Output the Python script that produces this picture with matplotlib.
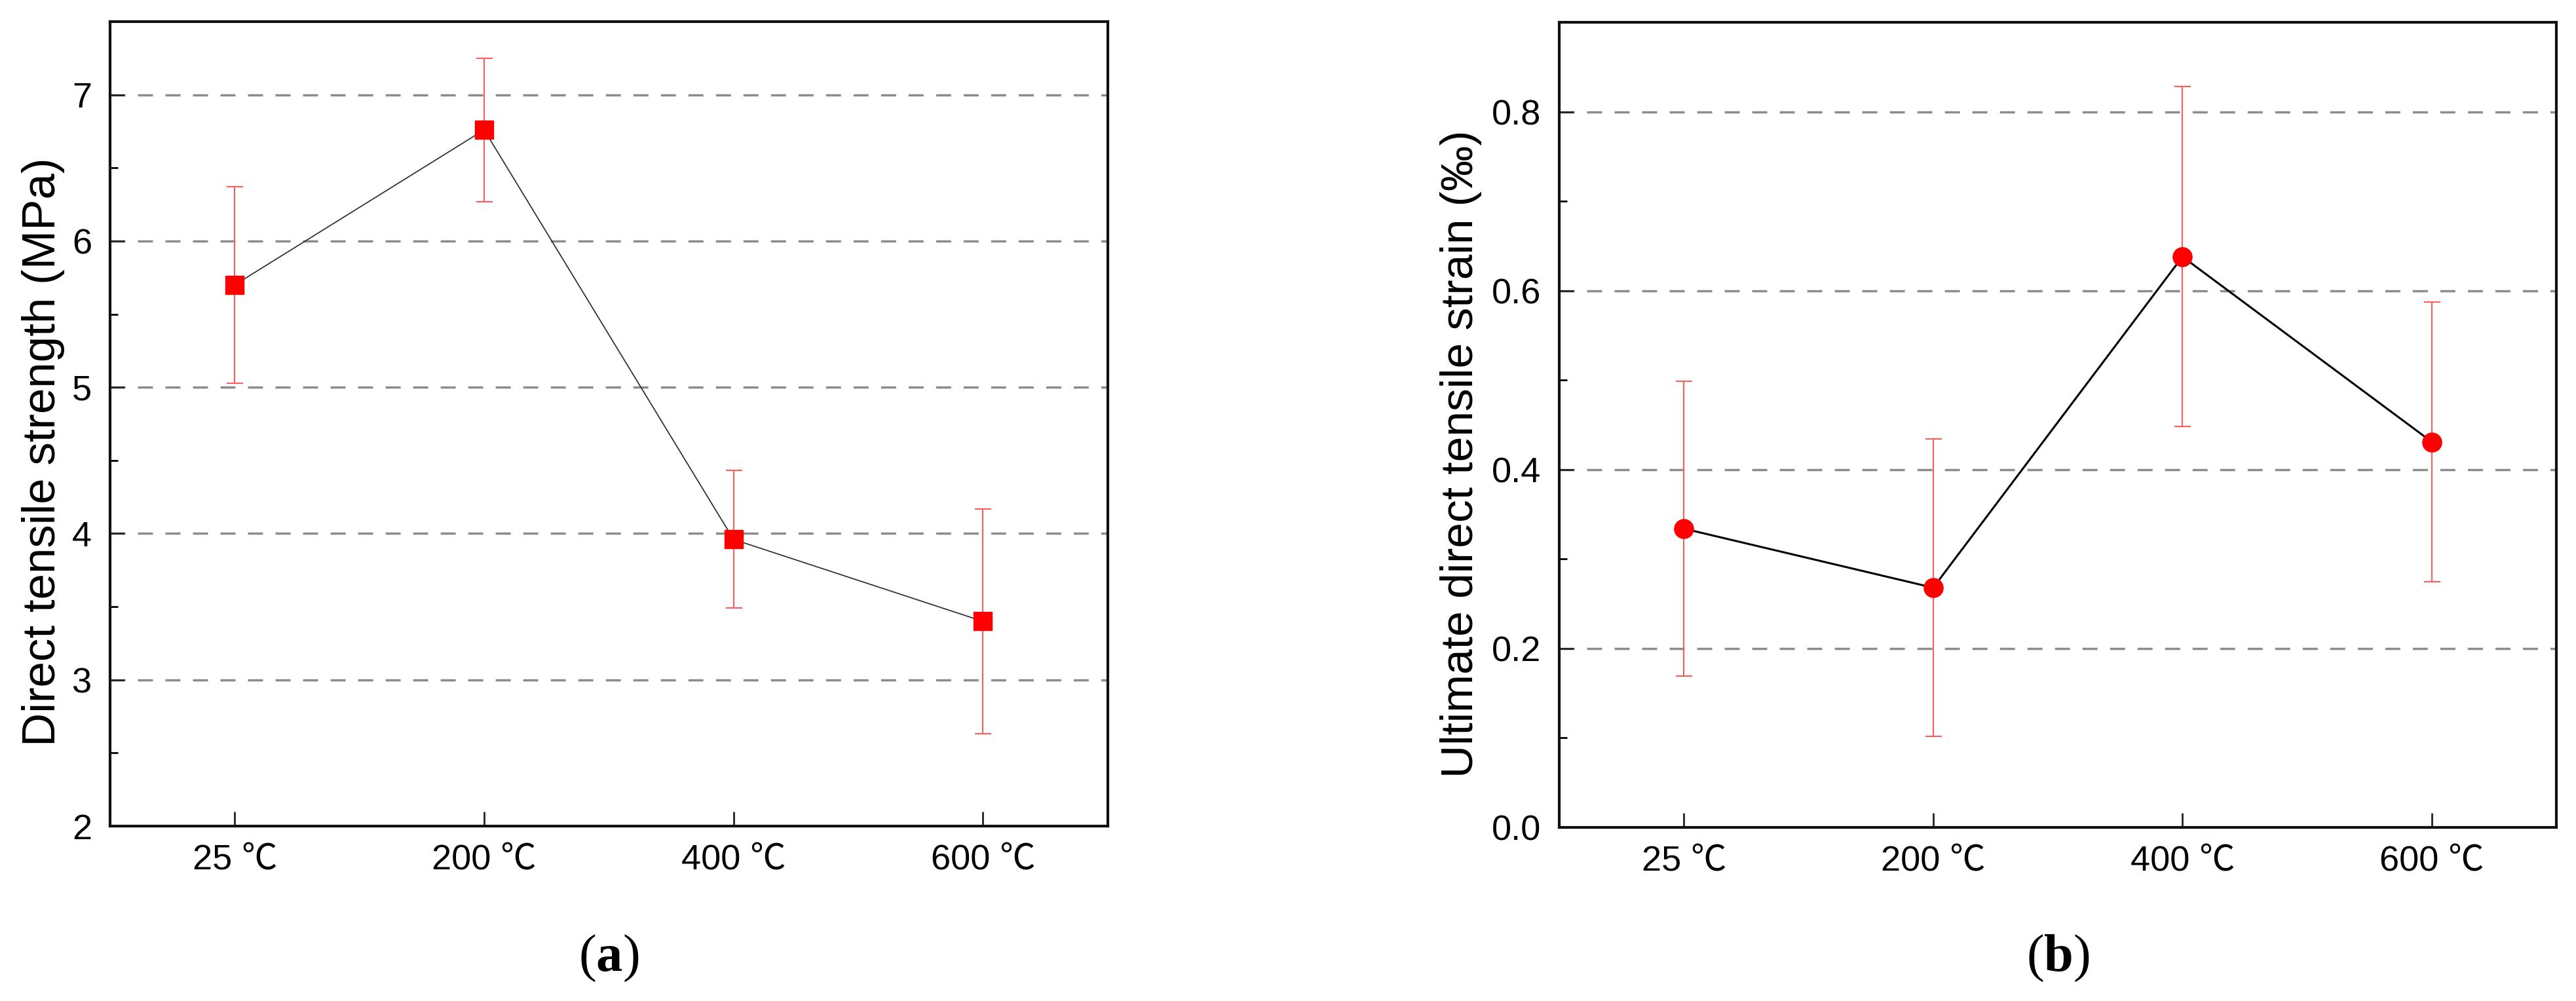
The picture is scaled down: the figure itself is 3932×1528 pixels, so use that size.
# -*- coding: utf-8 -*-
"""
Direct tensile strength and ultimate direct tensile strain vs temperature.
"""
import matplotlib
matplotlib.use('Agg')
import matplotlib.pyplot as plt
from matplotlib import font_manager
from matplotlib.ticker import MultipleLocator, FormatStrFormatter

# data
temps = ['25 ℃', '200 ℃', '400 ℃', '600 ℃']
strength = [5.70, 6.76, 3.96, 3.40]        # MPa
strength_err = [0.67, 0.49, 0.47, 0.77]
strain = [0.334, 0.268, 0.638, 0.431]      # ‰
strain_err = [0.165, 0.166, 0.190, 0.156]

plt.rcParams['font.family'] = ['Liberation Sans', 'Noto Sans CJK SC', 'DejaVu Sans']
plt.rcParams['mathtext.fontset'] = 'custom'
plt.rcParams['mathtext.bf'] = 'Liberation Serif:bold'
plt.rcParams['mathtext.rm'] = 'Liberation Serif'

# tick labels in the original are narrow; use the narrow face if it is installed
installed = {f.name for f in font_manager.fontManager.ttflist}
if 'Liberation Sans Narrow' in installed:
    tick_family = ['Liberation Sans Narrow', 'Noto Sans CJK SC', 'DejaVu Sans']
    tick_size = 42
else:
    tick_family = ['Liberation Sans', 'Noto Sans CJK SC', 'DejaVu Sans']
    tick_size = 39

fig = plt.figure(figsize=(39.32, 15.28), dpi=100)
ax1 = fig.add_axes([0.0427, 0.1747, 0.3873, 0.8037])
ax2 = fig.add_axes([0.6053, 0.1734, 0.3871, 0.8043])

x = list(range(len(temps)))
err_color = '#ff5c5c'
grid_kw = dict(color='#8c8c8c', lw=2.5, ls=(0, (6.6, 5.5)), zorder=1)


def style_axes(ax, ylim, major, minor):
    ax.set_xlim(-0.5, 3.5)
    ax.set_ylim(*ylim)
    ax.set_xticks(x)
    ax.set_xticklabels(temps)
    ax.yaxis.set_major_locator(MultipleLocator(major))
    ax.yaxis.set_minor_locator(MultipleLocator(minor))
    ax.tick_params(axis='both', which='major', direction='in', length=16, width=2,
                   labelsize=tick_size, color='#222222', labelfontfamily=tick_family)
    ax.tick_params(axis='x', which='major', pad=20)
    ax.tick_params(axis='y', which='major', pad=20)
    ax.tick_params(axis='y', which='minor', direction='in', length=8.5, width=2)
    ax.tick_params(axis='x', which='minor', bottom=False)
    for s in ax.spines.values():
        s.set_linewidth(3)
        s.set_color('#111111')
    # dashed horizontal lines at the major ticks (not on the frame)
    lo, hi = ylim
    v = lo + major
    while v < hi - 1e-9:
        ax.axhline(v, **grid_kw)
        v += major


# (a) strength
ax1.errorbar(x, strength, yerr=strength_err, fmt='none', ecolor=err_color,
             elinewidth=1.5, capsize=9, capthick=1.5, zorder=2)
ax1.plot(x, strength, color='#333333', lw=1.3, zorder=3)
ax1.plot(x, strength, ls='none', marker='s', ms=20, color='#ff0000', zorder=4)
style_axes(ax1, (2, 7.5), 1, 0.5)
ax1.set_ylabel('Direct tensile strength (MPa)', fontsize=51, va='center')
ax1.yaxis.set_label_coords(-0.067, 0.465)

# (b) strain
ax2.errorbar(x, strain, yerr=strain_err, fmt='none', ecolor=err_color,
             elinewidth=1.5, capsize=9, capthick=1.5, zorder=2)
ax2.plot(x, strain, color='#000000', lw=2.2, zorder=3)
ax2.plot(x, strain, ls='none', marker='o', ms=21, color='#ff0000', zorder=4)
style_axes(ax2, (0, 0.9), 0.2, 0.1)
ax2.yaxis.set_major_formatter(FormatStrFormatter('%.1f'))
ax2.set_ylabel('Ultimate direct tensile strain (‰)', fontsize=50, va='center')
ax2.yaxis.set_label_coords(-0.0985, 0.464)

# sub-captions
for ax, lab in [(ax1, 'a'), (ax2, 'b')]:
    pos = ax.get_position()
    fig.text(pos.x0 + pos.width / 2, 0.0425, r'($\mathbf{%s}$)' % lab,
             fontsize=58, family='Liberation Serif', ha='center', va='center')

fig.savefig('out.png', dpi=100, facecolor='white')
